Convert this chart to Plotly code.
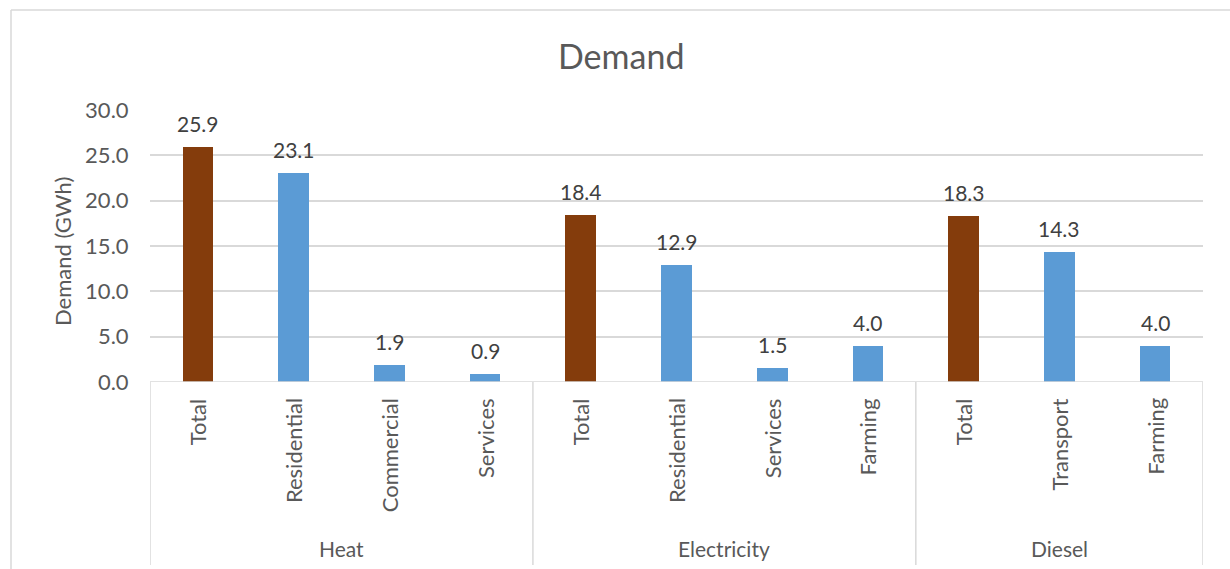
import plotly.graph_objects as go

groups = ["Heat", "Electricity", "Diesel"]
subcategories = [
    ["Total", "Residential", "Commercial", "Services"],
    ["Total", "Residential", "Services", "Farming"],
    ["Total", "Transport", "Farming"],
]
values = [
    [25.9, 23.1, 1.9, 0.9],
    [18.4, 12.9, 1.5, 4.0],
    [18.3, 14.3, 4.0],
]
y_ticks = [0, 5, 10, 15, 20, 25, 30]

BROWN = "#843C0C"
BLUE = "#5B9BD5"
GRID = "#D9D9D9"
TXT = "#595959"
FONT = "Lato"

# flatten
xs, ys, labels, colors = [], [], [], []
group_bounds = []
i = 0
for g, subs, vals in zip(groups, subcategories, values):
    start = i
    for s, v in zip(subs, vals):
        xs.append(i)
        ys.append(v)
        labels.append(s)
        colors.append(BROWN if s == "Total" else BLUE)
        i += 1
    group_bounds.append((start - 0.5, i - 0.5))
n = i

W, H = 1230, 569
L, R, T, B = 150, 27, 110, 187
pw = W - L - R
ph = H - T - B


def px_x(p):
    return (p - L) / pw


def px_y(p):
    return (H - B - p) / ph


fig = go.Figure()
fig.add_trace(go.Bar(
    x=xs, y=ys, marker=dict(color=colors, line=dict(width=0)),
    width=0.32, hoverinfo="skip",
))

shapes = []
# x axis baseline
shapes.append(dict(type="line", xref="x", yref="y", x0=-0.5, x1=n - 0.5, y0=0, y1=0,
                   line=dict(color=GRID, width=1.5)))
# group separators
seps = sorted(set([b for gb in group_bounds for b in gb]))
for s in seps:
    shapes.append(dict(type="line", xref="x", yref="paper", x0=s, x1=s,
                       y0=0, y1=px_y(565), line=dict(color=GRID, width=1.5)))
# outer chart border (top and left)
shapes.append(dict(type="line", xref="paper", yref="paper", x0=px_x(11), x1=px_x(1232),
                   y0=px_y(10), y1=px_y(10), line=dict(color=GRID, width=1.5)))
shapes.append(dict(type="line", xref="paper", yref="paper", x0=px_x(11), x1=px_x(11),
                   y0=px_y(10), y1=px_y(571), line=dict(color=GRID, width=1.5)))

annotations = []
# data labels
for x, v in zip(xs, ys):
    annotations.append(dict(x=x, xref="x", y=v, yref="y", text=f"{v:.1f}",
                            showarrow=False, xanchor="center", yanchor="bottom", yshift=9,
                            font=dict(family=FONT, size=21, color="#404040")))
for x, lab in zip(xs, labels):
    annotations.append(dict(x=x, xref="x", y=px_y(396), yref="paper", text=lab,
                            textangle=-90, showarrow=False, xanchor="center", yanchor="top",
                            font=dict(family=FONT, size=22, color=TXT)))
for g, (a, b) in zip(groups, group_bounds):
    annotations.append(dict(x=(a + b) / 2, xref="x", y=px_y(548), yref="paper", text=g,
                            showarrow=False, xanchor="center", yanchor="middle",
                            font=dict(family=FONT, size=21, color=TXT)))
annotations.append(dict(x=px_x(63), xref="paper", y=px_y(252), yref="paper",
                        text="Demand (GWh)", textangle=-90, showarrow=False,
                        xanchor="center", yanchor="middle",
                        font=dict(family=FONT, size=22, color=TXT)))
annotations.append(dict(x=px_x(621), xref="paper", y=px_y(55), yref="paper",
                        text="Demand", showarrow=False, xanchor="center", yanchor="middle",
                        font=dict(family=FONT, size=34, color=TXT)))

fig.update_layout(
    width=W, height=H,
    margin=dict(l=L, r=R, t=T, b=B, autoexpand=False),
    paper_bgcolor="white", plot_bgcolor="white",
    showlegend=False,
    shapes=shapes, annotations=annotations,
    xaxis=dict(range=[-0.5, n - 0.5], showticklabels=False, showgrid=False,
               zeroline=False, showline=False, fixedrange=True),
    yaxis=dict(range=[0, 30], tickvals=y_ticks, ticktext=[f"{v:.1f}" for v in y_ticks],
               showgrid=True, gridcolor=GRID, gridwidth=1.5, zeroline=False,
               showline=False, ticks="outside", ticklen=16, tickcolor="rgba(0,0,0,0)",
               tickfont=dict(family=FONT, size=22, color=TXT)),
    bargap=0,
)

fig.write_html("out.html")
